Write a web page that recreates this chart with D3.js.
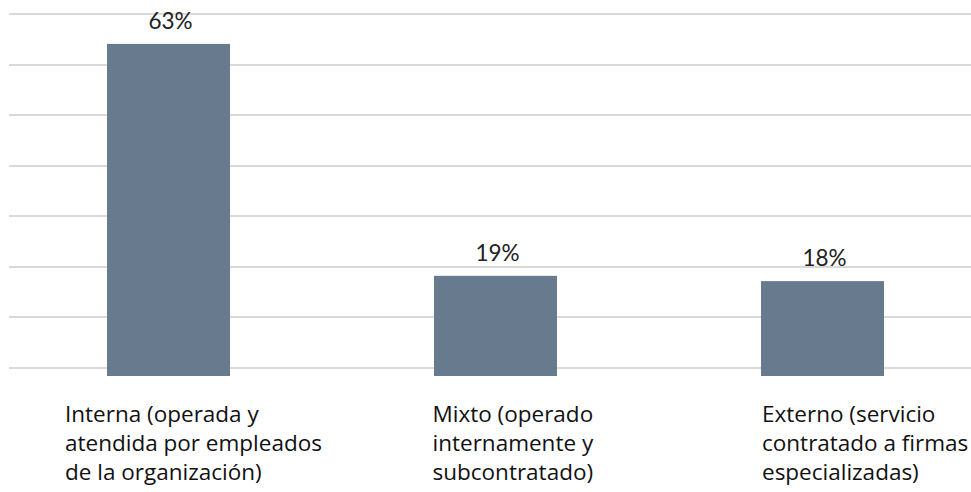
<!DOCTYPE html>
<html>
<head>
<meta charset="utf-8">
<script src="https://cdn.jsdelivr.net/npm/d3@7"></script>
<style>
  html, body { margin: 0; padding: 0; background: #ffffff; }
  svg { display: block; }
</style>
</head>
<body>
<svg id="chart" width="971" height="492"></svg>
<script>
const categories = ["Interna", "Mixto", "Externo"];
const values = [63, 19, 18];
const valueLabels = ["63%", "19%", "18%"];
const categoryLines = [
  ["Interna (operada y", "atendida por empleados", "de la organización)"],
  ["Mixto (operado", "internamente y", "subcontratado)"],
  ["Externo (servicio", "contratado a firmas", "especializadas)"]
];
const gridCount = 8;

const svg = d3.select("#chart");
const W = 971, H = 492;

// gridlines
const gy = d3.scaleLinear().domain([0, gridCount - 1]).range([14, 368]);
svg.append("g").selectAll("line")
  .data(d3.range(gridCount))
  .join("line")
  .attr("x1", 9).attr("x2", W)
  .attr("y1", d => Math.round(gy(d))).attr("y2", d => Math.round(gy(d)))
  .attr("stroke", "#d9d9d9")
  .attr("stroke-width", 2);

const x = d3.scalePoint().domain(categories).range([168.5, 822.5]);
const y = d3.scaleLinear().domain([0, 70]).range([376, 7]);
const bw = 123;

svg.append("g").selectAll("rect")
  .data(values)
  .join("rect")
  .attr("x", (d, i) => x(categories[i]) - bw / 2)
  .attr("y", d => y(d))
  .attr("width", bw)
  .attr("height", d => y(0) - y(d))
  .attr("fill", "#677a8e");

svg.append("g").selectAll("text")
  .data(values)
  .join("text")
  .attr("x", (d, i) => x(categories[i]) + 2)
  .attr("y", d => y(d) - 15)
  .attr("text-anchor", "middle")
  .attr("font-family", "Lato, 'Open Sans', sans-serif")
  .attr("font-size", 22.5)
  .attr("fill", "#222")
  .text((d, i) => valueLabels[i]);

const labelShift = [-103.5, -63, -60.5];
const lbl = svg.append("g").selectAll("text")
  .data(categories)
  .join("text")
  .attr("x", (d, i) => x(d) + labelShift[i])
  .attr("y", 422)
  .attr("font-family", "'Open Sans', 'Noto Sans', sans-serif")
  .attr("font-size", 22.5)
  .attr("fill", "#111");
lbl.each(function(d, i) {
  const t = d3.select(this);
  const x0 = +t.attr("x");
  categoryLines[i].forEach((line, j) => {
    t.append("tspan").attr("x", x0).attr("dy", j === 0 ? 0 : 29).text(line);
  });
});
</script>
</body>
</html>
